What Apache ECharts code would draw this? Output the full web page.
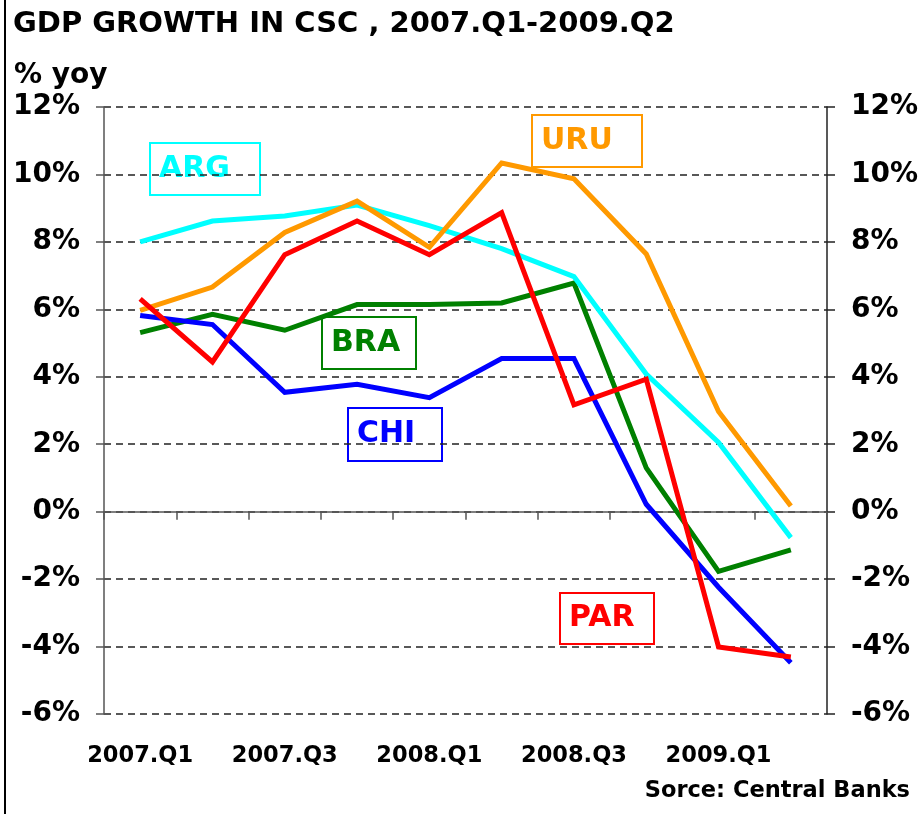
<!DOCTYPE html>
<html>
<head>
<meta charset="utf-8">
<script src="https://cdn.jsdelivr.net/npm/echarts@6/dist/echarts.min.js"></script>
<style>
  html, body {margin: 0; padding: 0; background: #fff;}
  #chart {width: 922px; height: 814px;}
</style>
</head>
<body>
<div id="chart"></div>
<script>
// quarters on the x axis
const quarters = ['2007.Q1', '2007.Q2', '2007.Q3', '2007.Q4', '2008.Q1',
  '2008.Q2', '2008.Q3', '2008.Q4', '2009.Q1', '2009.Q2'];

// GDP growth, % yoy
const arg = [8.0, 8.62, 8.77, 9.09, 8.48, 7.8, 6.97, 4.08, 2.05, -0.77];
const uru = [5.97, 6.66, 8.28, 9.21, 7.84, 10.34, 9.87, 7.64, 2.97, 0.17];
const par = [6.31, 4.44, 7.62, 8.62, 7.62, 8.87, 3.17, 3.93, -4.01, -4.31];
const bra = [5.31, 5.85, 5.38, 6.14, 6.14, 6.19, 6.78, 1.3, -1.77, -1.13];
const chi = [5.82, 5.55, 3.54, 3.78, 3.38, 4.54, 4.54, 0.22, -2.24, -4.48];

const yTicks = [-6, -4, -2, 0, 2, 4, 6, 8, 10, 12];

const FONT = 'DejaVu Sans';

const chart = echarts.init(document.getElementById('chart'));

const line = (name, color, data) => ({
  name,
  type: 'line',
  data,
  symbol: 'none',
  lineStyle: {color, width: 5, join: 'miter'},
  z: 3
});

// label boxes drawn like the source annotations
const tag = (text, color, x, y, w, h) => ({
  type: 'group',
  left: x,
  top: y,
  z: 10,
  children: [
    {type: 'rect', shape: {x: 0, y: 0, width: w, height: h},
      style: {fill: '#fff', stroke: color, lineWidth: 2}},
    {type: 'text', x: 9, y: h / 2,
      style: {text, fill: color, font: `bold 30px "${FONT}"`, textVerticalAlign: 'middle'}}
  ]
});

const axisText = {color: '#000', fontFamily: FONT, fontSize: 28, fontWeight: 'bold'};

chart.setOption({
  animation: false,
  backgroundColor: '#fff',
  title: [
    {text: 'GDP GROWTH IN CSC , 2007.Q1-2009.Q2', left: 8, top: 5,
      textStyle: {fontFamily: FONT, fontSize: 29, fontWeight: 'bold', color: '#000'}},
    {text: '% yoy', left: 9, top: 57,
      textStyle: {fontFamily: FONT, fontSize: 28, fontWeight: 'bold', color: '#000'}},
    {text: 'Sorce: Central Banks', right: 7, top: 775,
      textStyle: {fontFamily: FONT, fontSize: 22.5, fontWeight: 'bold', color: '#000'}}
  ],
  grid: {left: 104, right: 95, top: 107, bottom: 100, containLabel: false},
  xAxis: [
    {
      type: 'category',
      position: 'bottom',
      data: quarters,
      axisLine: {show: false, onZero: false},
      axisTick: {show: false},
      axisLabel: Object.assign({interval: 1, margin: 31}, axisText, {fontSize: 22.5}),
      splitLine: {show: false}
    },
    {
      type: 'category',
      position: 'bottom',
      data: quarters,
      axisLine: {show: true, onZero: true, onZeroAxisIndex: 0,
        lineStyle: {color: '#555', width: 1.5}},
      axisTick: {show: true, length: 8, lineStyle: {color: '#555', width: 1.5}},
      axisLabel: {show: false},
      splitLine: {show: false}
    }
  ],
  yAxis: [
    {
      type: 'value',
      min: yTicks[0],
      max: yTicks[yTicks.length - 1],
      interval: 2,
      position: 'left',
      axisLine: {show: true, onZero: false, lineStyle: {color: '#555', width: 1.5}},
      axisTick: {show: true, length: 8, lineStyle: {color: '#555', width: 1.5}},
      axisLabel: Object.assign({formatter: '{value}%', margin: 24}, axisText),
      splitLine: {show: true, lineStyle: {color: '#222', type: [7, 5], width: 1.5}}
    },
    {
      type: 'value',
      min: yTicks[0],
      max: yTicks[yTicks.length - 1],
      interval: 2,
      position: 'right',
      axisLine: {show: true, onZero: false, lineStyle: {color: '#222', width: 1.5}},
      axisTick: {show: true, length: 8, lineStyle: {color: '#222', width: 1.5}},
      axisLabel: Object.assign({formatter: '{value}%', margin: 24}, axisText),
      splitLine: {show: false}
    }
  ],
  series: [
    line('BRA', '#008000', bra),
    line('CHI', '#0000ff', chi),
    line('ARG', '#00ffff', arg),
    line('URU', '#ff9900', uru),
    line('PAR', '#ff0000', par)
  ],
  graphic: [
    {type: 'rect', left: 4, top: 0, z: 20,
      shape: {width: 2, height: 814}, style: {fill: '#000'}},
    tag('ARG', '#00ffff', 149, 142, 110, 52),
    tag('URU', '#ff9900', 531, 114, 110, 52),
    tag('BRA', '#008000', 321, 316, 94, 52),
    tag('CHI', '#0000ff', 347, 407, 94, 53),
    tag('PAR', '#ff0000', 559, 592, 94, 51)
  ]
});
</script>
</body>
</html>
